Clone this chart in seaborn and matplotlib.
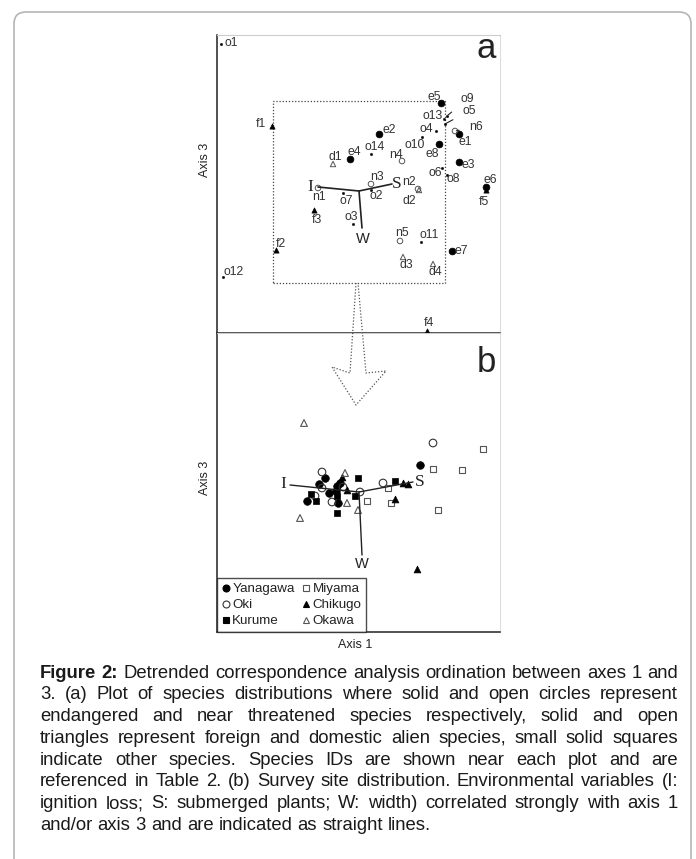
import numpy as np
import pandas as pd
import matplotlib
matplotlib.use("Agg")
import matplotlib.pyplot as plt
import seaborn as sns
from matplotlib.patches import FancyBboxPatch, Rectangle
from matplotlib.lines import Line2D
from matplotlib.transforms import IdentityTransform

# ---- data (DCA scores, arbitrary units) ----
# (a) species: id prefix gives the class (e, n, f, d, o)
species_ids = ['e1', 'e2', 'e3', 'e4', 'e5', 'e6', 'e7', 'e8',
               'n1', 'n2', 'n3', 'n4', 'n5', 'n6',
               'f1', 'f2', 'f3', 'f4', 'f5',
               'd1', 'd2', 'd3', 'd4',
               'o1', 'o2', 'o3', 'o4', 'o5', 'o6', 'o7', 'o8', 'o9', 'o10',
               'o11', 'o12', 'o13', 'o14']
species_ax1 = [2.42, 1.62, 2.42, 1.33, 2.24, 2.69, 2.35, 2.22,
               1.01, 2.01, 1.54, 1.85, 1.83, 2.38,
               0.55, 0.59, 0.97, 2.10, 2.69,
               1.16, 2.02, 1.86, 2.16,
               0.04, 1.54, 1.36, 2.19, 2.28, 2.25, 1.26, 2.30, 2.30, 2.05,
               2.04, 0.06, 2.27, 1.54]
species_ax3 = [1.99, 1.99, 1.71, 1.74, 2.30, 1.46, 0.82, 1.89,
               1.45, 1.44, 1.49, 1.72, 0.92, 2.02,
               2.07, 0.83, 1.23, 0.02, 1.43,
               1.69, 1.43, 0.76, 0.69,
               2.89, 1.43, 1.09, 2.02, 2.09, 1.65, 1.40, 1.58, 2.17, 1.96,
               0.91, 0.56, 2.14, 1.79]

# (b) survey sites by river
site_river = (['Yanagawa'] * 9 + ['Oki'] * 8 + ['Kurume'] * 7 +
              ['Miyama'] * 7 + ['Chikugo'] * 6 + ['Okawa'] * 5)
site_ax1 = [1.08, 1.02, 1.12, 1.20, 1.23, 1.19, 0.90, 1.21, 2.03,
            1.05, 1.05, 0.98, 1.15, 1.26, 1.43, 1.66, 2.16,
            1.41, 0.94, 0.99, 1.20, 1.38, 1.20, 1.78,
            2.66, 2.16, 2.45, 2.21, 1.71, 1.74, 1.50,
            1.25, 1.30, 1.86, 1.91, 1.78, 2.00,
            0.87, 1.28, 1.30, 1.41, 0.83]
site_ax3 = [1.54, 1.48, 1.39, 1.46, 1.49, 1.41, 1.31, 1.29, 1.67,
            1.60, 1.44, 1.36, 1.30, 1.45, 1.40, 1.49, 1.89,
            1.54, 1.38, 1.31, 1.36, 1.36, 1.19, 1.51,
            1.83, 1.63, 1.62, 1.22, 1.44, 1.29, 1.31,
            1.55, 1.42, 1.49, 1.48, 1.33, 0.63,
            2.09, 1.59, 1.29, 1.22, 1.14]

# environmental variables: origin and end of each line
env_names = ['I', 'S', 'W']
env_a_origin = (1.42, 1.42)
env_a_ax1 = [1.01, 1.75, 1.45]
env_a_ax3 = [1.46, 1.49, 1.05]
env_b_origin = (1.42, 1.40)
env_b_ax1 = [0.73, 1.96, 1.45]
env_b_ax3 = [1.47, 1.50, 0.77]

# zoom box in (a) drawn around the site region
box_ax1 = (0.56, 2.28)
box_ax3 = (0.50, 2.32)

caption_lines = [
    "Figure 2: Detrended correspondence analysis ordination between axes 1 and",
    "3. (a) Plot of species distributions where solid and open circles represent",
    "endangered and near threatened species respectively, solid and open",
    "triangles represent foreign and domestic alien species, small solid squares",
    "indicate other species. Species IDs are shown near each plot and are",
    "referenced in Table 2. (b) Survey site distribution. Environmental variables (I:",
    "ignition loss; S: submerged plants; W: width) correlated strongly with axis 1",
    "and/or axis 3 and are indicated as straight lines.",
]

# label offsets in pixels (dx right, dy down) from each point
label_offsets = {
    'o1': (10, -1), 'e5': (-7, -6), 'o9': (20, -17), 'o13': (-11, -3),
    'o5': (24, -13), 'o4': (-10, -2), 'n6': (21, -4), 'e1': (6, 8),
    'e2': (10, -4), 'o14': (4, -7), 'o10': (-7, 8), 'n4': (-6, -6),
    'e8': (-7, 10), 'e3': (9, 3), 'o6': (-7, 5), 'o8': (6, 4),
    'e6': (4, -7), 'f5': (-2, 12), 'n2': (-9, -7), 'd2': (-10, 11),
    'n1': (1, 9), 'o7': (3, 8), 'n3': (6, -7), 'o2': (5, 6),
    'f3': (3, 10), 'o3': (-2, -7), 'n5': (2, -8), 'o11': (8, -7),
    'e7': (9, 0), 'd3': (3, 8), 'd4': (2, 8), 'f2': (5, -6),
    'o12': (11, -5), 'f4': (2, -8), 'f1': (-11, -2), 'd1': (2, -7),
    'e4': (4, -7),
}
leader_ids = ['o9', 'o5', 'n6']

species = pd.DataFrame({'id': species_ids, 'ax1': species_ax1, 'ax3': species_ax3})
species['cls'] = species['id'].str[0]
sites = pd.DataFrame({'river': site_river, 'ax1': site_ax1, 'ax3': site_ax3})

sns.set_style("white")
plt.rcParams['font.family'] = ['Liberation Sans', 'DejaVu Sans']

W_PX, H_PX = 696, 859
fig = plt.figure(figsize=(W_PX / 100, H_PX / 100), dpi=100)

def fx(px):
    return px / W_PX

def fy(py):
    return 1 - py / H_PX

ax_a = fig.add_axes([fx(217), fy(333), fx(500) - fx(217), fy(35) - fy(333)])
ax_b = fig.add_axes([fx(217), fy(632), fx(500) - fx(217), fy(333) - fy(632)])

ink = '#222222'
gray = '#555555'

# ---- panel (a) ----
species_style = {
    'e': dict(marker='o', s=24, color='black', edgecolor='black', linewidth=0.5),
    'n': dict(marker='o', s=16, color=gray, facecolor='none', edgecolor=gray, linewidth=0.7),
    'f': dict(marker='^', s=14, color='black', edgecolor='black', linewidth=0.5),
    'd': dict(marker='^', s=15, color=gray, facecolor='none', edgecolor=gray, linewidth=0.7),
    'o': dict(marker='o', s=3, color='black', edgecolor='black', linewidth=0.3),
}
for cls, kw in species_style.items():
    sns.scatterplot(data=species[species['cls'] == cls], x='ax1', y='ax3',
                    ax=ax_a, legend=False, zorder=3, **kw)

for _, r in species.iterrows():
    dx, dy = label_offsets[r['id']]
    arrow = None
    if r['id'] in leader_ids:
        arrow = dict(arrowstyle='-', lw=0.8, color=ink, shrinkA=5, shrinkB=1)
    ax_a.annotate(r['id'], xy=(r['ax1'], r['ax3']), xytext=(dx, -dy),
                  textcoords='offset pixels', ha='center', va='center',
                  fontsize=8.8, color='#333333', arrowprops=arrow, zorder=4)

ax_a.add_patch(Rectangle((box_ax1[0], box_ax3[0]), box_ax1[1] - box_ax1[0],
                         box_ax3[1] - box_ax3[0], fill=False, ls=(0, (1, 1.5)),
                         lw=0.9, ec='#444444', zorder=2))

def draw_env(ax, origin, ends1, ends3, lab_off, lw):
    for name, e1, e3, off in zip(env_names, ends1, ends3, lab_off):
        ax.plot([origin[0], e1], [origin[1], e3], color=ink, lw=lw, zorder=5)
        if name == 'W':
            ax.annotate(name, xy=(e1, e3), xytext=off, textcoords='offset pixels',
                        ha='center', va='center', fontsize=10.5, color=ink, zorder=6)
        else:
            ax.annotate(name, xy=(e1, e3), xytext=off, textcoords='offset pixels',
                        ha='center', va='center', fontsize=12.5, color=ink,
                        family=['Liberation Serif', 'DejaVu Serif'], zorder=6)

draw_env(ax_a, env_a_origin, env_a_ax1, env_a_ax3, [(-8, 0), (5, 0), (1, -11)], 1.2)
ax_a.text(0.985, 0.955, 'a', transform=ax_a.transAxes, ha='right', va='center',
          fontsize=25, color=ink)

ax_a.set_xlim(0, 2.83)
ax_a.set_ylim(0, 2.98)

# ---- panel (b) ----
site_style = {
    'Yanagawa': dict(marker='o', s=30, color='black', edgecolor='black', linewidth=0.5),
    'Oki': dict(marker='o', s=30, color='#333333', facecolor='none', edgecolor='#333333', linewidth=0.8),
    'Kurume': dict(marker='s', s=22, color='black', edgecolor='black', linewidth=0.5),
    'Miyama': dict(marker='s', s=22, color=gray, facecolor='none', edgecolor=gray, linewidth=0.8),
    'Chikugo': dict(marker='^', s=24, color='black', edgecolor='black', linewidth=0.5),
    'Okawa': dict(marker='^', s=24, color=gray, facecolor='none', edgecolor=gray, linewidth=0.8),
}
for river, kw in site_style.items():
    sns.scatterplot(data=sites[sites['river'] == river], x='ax1', y='ax3',
                    ax=ax_b, legend=False, zorder=3, **kw)

draw_env(ax_b, env_b_origin, env_b_ax1, env_b_ax3, [(-7, 1), (7, 0), (0, -9)], 1.0)
ax_b.text(0.985, 0.9, 'b', transform=ax_b.transAxes, ha='right', va='center',
          fontsize=25, color=ink)

handles = []
for river, kw in site_style.items():
    fc = kw.get('facecolor', kw['color'])
    handles.append(Line2D([], [], ls='none', marker=kw['marker'], markersize=5,
                          markerfacecolor=fc, markeredgecolor=kw['edgecolor'],
                          markeredgewidth=0.8, label=river))
leg = ax_b.legend(handles=handles, ncol=2, loc='lower left', bbox_to_anchor=(0, 0),
                  borderaxespad=0, frameon=True, fancybox=False, fontsize=9.6,
                  handlelength=0.6, handletextpad=0.2, columnspacing=0.55,
                  labelspacing=0.28, borderpad=0.35)
leg.get_frame().set_edgecolor(ink)
leg.get_frame().set_linewidth(1.0)
for t in leg.get_texts():
    t.set_color(ink)

ax_b.set_xlim(0, 2.83)
ax_b.set_ylim(0, 2.99)

for ax, ylab_y in ((ax_a, 0.58), (ax_b, 0.515)):
    ax.set_xticks([])
    ax.set_yticks([])
    ax.set_xlabel('')
    ax.set_ylabel('Axis 3', fontsize=9, color=ink)
    ax.yaxis.set_label_coords(-0.022, ylab_y)
    ax.spines['left'].set_color(ink)
    ax.spines['bottom'].set_color(ink)
    ax.spines['left'].set_linewidth(1.1)
    ax.spines['bottom'].set_linewidth(1.1)
    ax.spines['right'].set_color('#dddddd')
    ax.spines['top'].set_color('#cccccc')
ax_b.set_xlabel('Axis 1', fontsize=9, color=ink)
ax_b.xaxis.set_label_coords(0.488, -0.025)

# dotted arrow from zoom box down to panel (b)
arrow_px = [(356, 283), (350, 373), (332, 367), (356, 405), (386, 371), (366, 373), (358, 283)]
fig.add_artist(Line2D([fx(p[0]) for p in arrow_px], [fy(p[1]) for p in arrow_px],
                      transform=fig.transFigure, color=gray, lw=0.9, ls=(0, (1, 1.5)),
                      zorder=10))

# rounded frame around the figure and caption
fig.add_artist(FancyBboxPatch((14, H_PX - 885), 677, 873, transform=IdentityTransform(),
                              boxstyle='round,pad=0,rounding_size=12', fill=False,
                              ec='#b5b5b5', lw=1.2))

# justified caption: pick a size so the widest line fits the text block
fig.canvas.draw()
renderer = fig.canvas.get_renderer()
left_px, right_px = 40, 678
cap_family = ['Liberation Sans', 'DejaVu Sans']

def space_width(size):
    t = fig.text(0, 0, 'a a', fontsize=size, family=cap_family)
    t2 = fig.text(0, 0, 'aa', fontsize=size, family=cap_family)
    sp = t.get_window_extent(renderer).width - t2.get_window_extent(renderer).width
    t.remove()
    t2.remove()
    return sp

def line_width(idx, size):
    words = caption_lines[idx].split()
    total = 0
    for j, w in enumerate(words):
        tt = fig.text(0, 0, w, fontsize=size, family=cap_family,
                      fontweight='bold' if (idx == 0 and j < 2) else 'normal')
        total += tt.get_window_extent(renderer).width
        tt.remove()
    return total + space_width(size) * (len(words) - 1)

test_size = 13.0
widest = max(line_width(k, test_size) for k in range(len(caption_lines) - 1))
cap_size = test_size * (right_px - left_px) / widest * 0.995
space_px = space_width(cap_size)

for i, line in enumerate(caption_lines):
    words = line.split()
    y_disp = H_PX - (673 + i * 21.8)
    arts = []
    for j, w in enumerate(words):
        bold = (i == 0 and j < 2)
        t = fig.text(0, 0, w, transform=IdentityTransform(), ha='left', va='center',
                     fontsize=cap_size, color='#1a1a1a', family=cap_family,
                     fontweight='bold' if bold else 'normal')
        arts.append(t)
    widths = [a.get_window_extent(renderer).width for a in arts]
    if i < len(caption_lines) - 1 and len(words) > 1:
        gap = (right_px - left_px - sum(widths)) / (len(words) - 1)
    else:
        gap = space_px
    x = left_px
    for a, w in zip(arts, widths):
        a.set_position((x, y_disp))
        x += w + gap

fig.savefig('out.png', dpi=100)
